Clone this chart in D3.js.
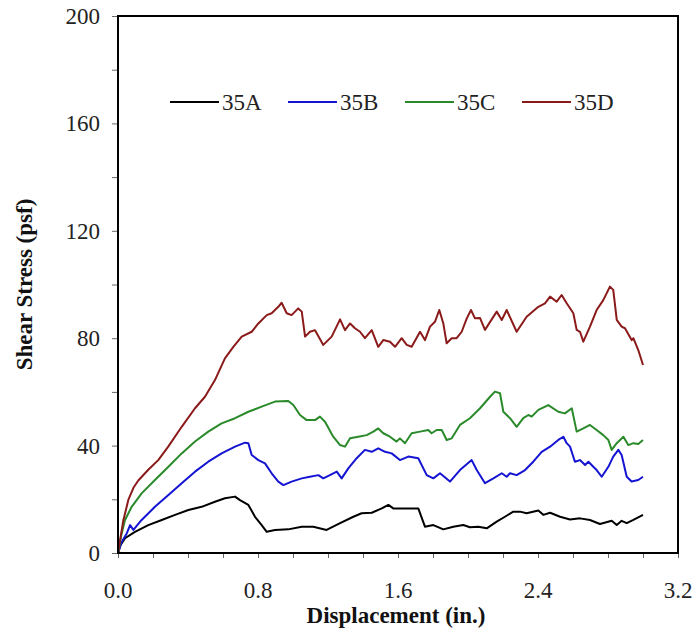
<!DOCTYPE html>
<html>
<head>
<meta charset="utf-8">
<script src="https://cdn.jsdelivr.net/npm/d3@7"></script>
<style>
  html, body { margin: 0; padding: 0; background: #fff; }
  svg { display: block; font-family: "Liberation Serif", "Times New Roman", serif; }
</style>
</head>
<body>
<svg id="chart" width="694" height="633"></svg>
<script>
// ---- data ----
const seriesNames = ["35A", "35B", "35C", "35D"];
const seriesColors = ["#000000", "#1414d2", "#2a8a2a", "#8b1a1a"];

const dispA = [0,0.015,0.04,0.097,0.173,0.25,0.326,0.402,0.478,0.554,0.611,0.669,0.697,0.745,0.783,0.821,0.85,0.897,0.973,1.05,1.116,1.192,1.269,1.345,1.392,1.45,1.507,1.545,1.573,1.63,1.716,1.754,1.802,1.859,1.916,1.973,2.011,2.059,2.107,2.164,2.211,2.259,2.297,2.335,2.402,2.43,2.469,2.526,2.583,2.64,2.697,2.754,2.821,2.85,2.878,2.907,2.945,3.0];
const stressA = [0,3,5.5,7.9,10.4,12.3,14.2,16,17.2,19.1,20.4,21,19.7,17.9,13.5,10.4,7.9,8.6,8.8,9.8,9.8,8.6,11.1,13.5,14.8,15,16.6,17.9,16.6,16.6,16.6,9.8,10.4,8.8,9.8,10.4,9.6,9.8,9.2,11.7,13.5,15.4,15.4,14.8,15.8,14.2,15,13.5,12.5,12.9,12.3,10.8,12,10.4,12,11.1,12.3,14.2];

const dispB = [0,0.02,0.05,0.069,0.088,0.135,0.211,0.288,0.364,0.44,0.516,0.592,0.669,0.726,0.745,0.764,0.802,0.84,0.878,0.916,0.945,0.992,1.05,1.097,1.145,1.173,1.211,1.25,1.278,1.316,1.364,1.411,1.45,1.487,1.526,1.564,1.611,1.659,1.716,1.764,1.802,1.84,1.897,1.954,2.021,2.05,2.097,2.145,2.193,2.221,2.24,2.278,2.326,2.373,2.421,2.469,2.516,2.545,2.564,2.583,2.611,2.64,2.669,2.688,2.716,2.735,2.764,2.802,2.83,2.859,2.878,2.907,2.935,2.973,3.0];
const stressB = [0,4,7.3,10.4,8.6,12.3,17.2,21.6,26,30.3,34,37.1,39.6,41.1,40.9,36.5,34.6,33.4,29.7,26.6,25.3,26.6,27.8,28.4,29,27.8,29,30.3,27.8,31.5,35.3,38.4,37.7,39,37.7,37.1,34.6,35.9,35.3,29,27.8,29.7,26.6,30.9,34.6,30.9,26,27.8,29.7,28.4,29.7,29,30.9,34,37.7,39.6,42.1,43.3,40.9,39.6,34,34.6,32.8,34,32.1,30.9,28.4,32.1,35.9,38.4,36.5,28.4,26.6,27.2,28.4];

const dispC = [0,0.02,0.04,0.078,0.135,0.211,0.288,0.364,0.44,0.516,0.592,0.669,0.745,0.821,0.897,0.973,1.002,1.04,1.078,1.126,1.154,1.183,1.23,1.269,1.297,1.326,1.373,1.421,1.459,1.487,1.516,1.554,1.592,1.611,1.64,1.678,1.726,1.773,1.792,1.821,1.85,1.878,1.907,1.954,2.011,2.069,2.126,2.154,2.183,2.202,2.24,2.278,2.316,2.345,2.364,2.402,2.459,2.516,2.554,2.593,2.621,2.659,2.697,2.735,2.773,2.802,2.821,2.85,2.888,2.916,2.945,2.973,3.0];
const stressC = [0,7,12.3,17.2,22.2,27.2,32.1,37.1,41.5,45.2,48.3,50.2,52.6,54.5,56.4,56.6,55.1,51.4,49.5,49.5,50.8,48.9,43.3,40.2,39.6,42.7,43.3,43.9,45.2,46.4,44.6,43.3,41.5,42.7,40.9,44.6,45.2,45.8,44.6,45.8,45.8,42.1,42.7,47.7,50.2,53.9,58.2,60.1,59.5,52.6,50.2,47,50.2,51.4,50.8,53.3,55.1,52.6,52,53.9,45.2,46.4,47.7,45.8,43.9,42.1,38.4,40.9,43.3,40.2,40.9,40.6,42.1];

const dispD = [0,0.03,0.06,0.09,0.116,0.173,0.23,0.287,0.364,0.44,0.497,0.554,0.611,0.659,0.707,0.764,0.802,0.85,0.878,0.916,0.935,0.964,0.992,1.03,1.05,1.069,1.097,1.126,1.173,1.221,1.269,1.297,1.326,1.354,1.383,1.411,1.45,1.487,1.516,1.554,1.583,1.621,1.65,1.678,1.726,1.754,1.783,1.811,1.836,1.859,1.878,1.907,1.935,1.964,1.993,2.017,2.04,2.069,2.097,2.164,2.193,2.221,2.278,2.335,2.402,2.44,2.469,2.507,2.535,2.564,2.602,2.621,2.64,2.659,2.697,2.735,2.773,2.811,2.83,2.85,2.878,2.897,2.935,2.945,2.973,3.0];
const stressD = [0,12,20,24.5,27,31,34.6,39.6,47,53.9,58.2,64.4,72.5,76.8,80.6,82.4,85.5,88.6,89.3,91.7,93.2,89.3,88.6,91.1,89.9,80.6,82.4,83,77.5,80.6,87,83,85.5,83.7,82.4,80,83,76.8,79.3,78.7,76.8,80,77.5,76.8,82.4,79.3,84.3,86.1,90.5,85.5,78.1,80,80,82.4,87.4,90.5,87.4,87.5,83.1,89.9,86.8,90.5,82.4,88,91.7,93,95.5,93.6,96.1,93,89.3,83.1,82.4,78.7,84.3,90.5,94.2,99.2,98,86.8,84.3,83.7,79.3,80,75.6,70];

const xTickLabels = [0.0, 0.8, 1.6, 2.4, 3.2];
const yTickLabels = [0, 40, 80, 120, 160, 200];

const xs = [dispA, dispB, dispC, dispD];
const ys = [stressA, stressB, stressC, stressD];

// ---- layout ----
const svg = d3.select("#chart");
const mLeft = 118, mRight = 678, mTop = 16, mBottom = 553;
const x = d3.scaleLinear().domain([0, 3.2]).range([mLeft, mRight]);
const y = d3.scaleLinear().domain([0, 200]).range([mBottom, mTop]);
const fontSize = 23;

// minor ticks
const xMinor = d3.range(0, 3.2001, 0.2);
const yMinor = d3.range(0, 200.001, 20);

svg.append("g").attr("transform", `translate(0,${mBottom})`)
  .call(d3.axisBottom(x).tickValues(xMinor).tickSize(5).tickFormat(""))
  .call(g => g.select(".domain").remove())
  .call(g => g.selectAll("line").attr("stroke", "#666").attr("stroke-width", 1));

svg.append("g").attr("transform", `translate(${mLeft},0)`)
  .call(d3.axisLeft(y).tickValues(yMinor).tickSize(6).tickFormat(""))
  .call(g => g.select(".domain").remove())
  .call(g => g.selectAll("line").attr("stroke", "#666").attr("stroke-width", 1));

// tick labels
svg.append("g").selectAll("text").data(xTickLabels).join("text")
  .attr("x", d => x(d)).attr("y", 598)
  .attr("text-anchor", "middle").attr("font-size", fontSize).attr("fill", "#222")
  .text(d => d.toFixed(1));

svg.append("g").selectAll("text").data(yTickLabels).join("text")
  .attr("x", 100).attr("y", d => y(d) + 8)
  .attr("text-anchor", "end").attr("font-size", fontSize).attr("fill", "#222")
  .text(d => d);

// series
const line = d3.line().x(d => x(d[0])).y(d => y(d[1]));
seriesNames.forEach((name, i) => {
  const pts = xs[i].map((v, j) => [v, ys[i][j]]);
  svg.append("path").datum(pts)
    .attr("fill", "none").attr("stroke", seriesColors[i])
    .attr("stroke-width", 2).attr("stroke-linejoin", "round")
    .attr("d", line);
});

// frame
svg.append("rect").attr("x", mLeft).attr("y", mTop)
  .attr("width", mRight - mLeft).attr("height", mBottom - mTop)
  .attr("fill", "none").attr("stroke", "#000").attr("stroke-width", 2);

// legend
const legendX = [170, 288, 405, 522];
const legendY = 102;
const lg = svg.append("g");
seriesNames.forEach((name, i) => {
  lg.append("line").attr("x1", legendX[i]).attr("x2", legendX[i] + 49)
    .attr("y1", legendY).attr("y2", legendY)
    .attr("stroke", seriesColors[i]).attr("stroke-width", 2);
  lg.append("text").attr("x", legendX[i] + 52).attr("y", legendY + 8)
    .attr("font-size", fontSize).attr("fill", "#222").text(name);
});

// axis titles
svg.append("text").attr("x", (mLeft + mRight) / 2 - 2).attr("y", 623)
  .attr("text-anchor", "middle").attr("font-size", fontSize).attr("font-weight", "bold")
  .attr("fill", "#111").text("Displacement (in.)");

svg.append("text").attr("transform", `translate(32,${(mTop + mBottom) / 2}) rotate(-90)`)
  .attr("text-anchor", "middle").attr("font-size", fontSize).attr("font-weight", "bold")
  .attr("fill", "#111").text("Shear Stress (psf)");
</script>
</body>
</html>
